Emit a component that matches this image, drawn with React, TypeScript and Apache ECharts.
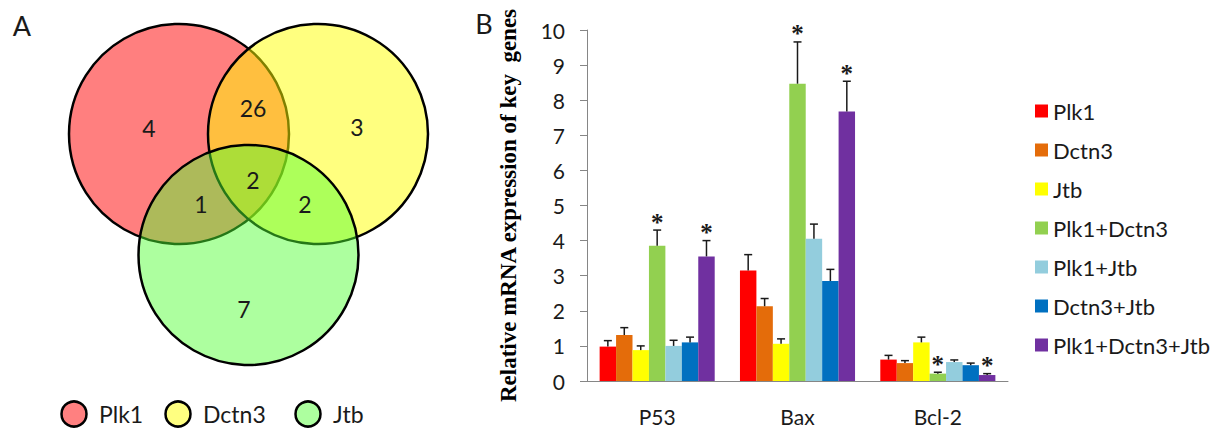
import React, { useEffect, useRef } from "react";
import * as echarts from "echarts";

const categories = ["P53", "Bax", "Bcl-2"];
const seriesNames = ["Plk1", "Dctn3", "Jtb", "Plk1+Dctn3", "Plk1+Jtb", "Dctn3+Jtb", "Plk1+Dctn3+Jtb"];
const seriesColors = ["#FF0000", "#E46C0A", "#FFFF00", "#92D050", "#93CDDD", "#0070C0", "#7030A0"];

const plk1 = [0.98, 3.15, 0.61];
const dctn3 = [1.31, 2.13, 0.51];
const jtb = [0.88, 1.06, 1.1];
const plk1Dctn3 = [3.85, 8.47, 0.21];
const plk1Jtb = [1.0, 4.05, 0.54];
const dctn3Jtb = [1.1, 2.85, 0.45];
const plk1Dctn3Jtb = [3.55, 7.68, 0.17];

const plk1Err = [0.17, 0.45, 0.12];
const dctn3Err = [0.21, 0.22, 0.07];
const jtbErr = [0.12, 0.14, 0.15];
const plk1Dctn3Err = [0.45, 1.19, 0.04];
const plk1JtbErr = [0.16, 0.42, 0.06];
const dctn3JtbErr = [0.15, 0.33, 0.06];
const plk1Dctn3JtbErr = [0.45, 0.86, 0.04];

const plk1Dctn3Sig = [1, 1, 1];
const plk1Dctn3JtbSig = [1, 1, 1];

const yTicks = [0, 1, 2, 3, 4, 5, 6, 7, 8, 9, 10];

// Venn diagram
const vennSets = ["Plk1", "Dctn3", "Jtb"];
const vennRegionCounts = [4, 3, 7, 26, 1, 2, 2]; // Plk1 only, Dctn3 only, Jtb only, P∩D, P∩J, D∩J, all

const allValues = [plk1, dctn3, jtb, plk1Dctn3, plk1Jtb, dctn3Jtb, plk1Dctn3Jtb];
const allErrors = [plk1Err, dctn3Err, jtbErr, plk1Dctn3Err, plk1JtbErr, dctn3JtbErr, plk1Dctn3JtbErr];
const zeros = [0, 0, 0];
const allSig = [zeros, zeros, zeros, plk1Dctn3Sig, zeros, zeros, plk1Dctn3JtbSig];

const CAT_GAP = 0.18;
const FONT = "Lato, 'Open Sans', sans-serif";
const SERIF = "'Liberation Serif', 'Times New Roman', serif";

export default function App() {
  const ref = useRef<HTMLDivElement>(null);
  useEffect(() => {
    if (!ref.current) return;
    const chart = echarts.init(ref.current, undefined, { renderer: "svg" });

    const errData: any[] = [];
    allValues.forEach((vals, si) => {
      vals.forEach((v, ci) => {
        errData.push([ci, v + allErrors[si][ci], si, v, allSig[si][ci]]);
      });
    });

    const n = seriesNames.length;

    // Venn geometry
    const R = 110;
    const centers = [
      [179, 134],
      [318, 134],
      [248.5, 255],
    ];
    const vennFills = ["rgba(255,0,0,0.5)", "rgba(255,255,0,0.5)", "rgba(80,255,49,0.465)"];
    const legendFills = ["#FF8080", "#FFFF80", "#ADFF9F"];
    const regionPos = [
      [149, 128],
      [357, 127],
      [244, 309],
      [253, 108],
      [201, 204],
      [305, 204],
      [253, 180],
    ];

    const graphics: any[] = [];
    centers.forEach((c, i) => {
      graphics.push({
        type: "circle",
        shape: { cx: c[0], cy: c[1], r: R },
        style: { fill: vennFills[i], stroke: "#000", lineWidth: 2.5 },
        z: 10 + i,
      });
    });
    regionPos.forEach((p, i) => {
      graphics.push({
        type: "text",
        x: p[0],
        y: p[1],
        style: {
          text: String(vennRegionCounts[i]),
          fontSize: 23,
          fontFamily: FONT,
          fill: "#1a1a1a",
          align: "center",
          verticalAlign: "middle",
        },
        z: 20,
      });
    });
    const legX = [74, 178, 308];
    vennSets.forEach((name, i) => {
      graphics.push({
        type: "circle",
        shape: { cx: legX[i], cy: 414, r: 12.5 },
        style: { fill: legendFills[i], stroke: "#000", lineWidth: 2.5 },
        z: 10,
      });
      graphics.push({
        type: "text",
        x: legX[i] + 25,
        y: 414,
        style: {
          text: name,
          fontSize: 23,
          fontFamily: FONT,
          fill: "#1a1a1a",
          align: "left",
          verticalAlign: "middle",
        },
        z: 10,
      });
    });
    graphics.push({
      type: "text",
      x: 22,
      y: 25,
      style: { text: "A", fontSize: 27, fontFamily: FONT, fill: "#1a1a1a", align: "center", verticalAlign: "middle" },
    });
    graphics.push({
      type: "text",
      x: 484,
      y: 23,
      style: { text: "B", fontSize: 27, fontFamily: FONT, fill: "#1a1a1a", align: "center", verticalAlign: "middle" },
    });

    const option: any = {
      animation: false,
      backgroundColor: "#ffffff",
      grid: { left: 587, right: 209, top: 30, bottom: 50, containLabel: false },
      legend: {
        data: seriesNames,
        orient: "vertical",
        left: 1035,
        top: 100,
        padding: 0,
        itemWidth: 13,
        itemHeight: 13,
        itemGap: 17,
        icon: "rect",
        textStyle: { fontSize: 22, lineHeight: 22, fontFamily: FONT, color: "#1a1a1a" },
      },
      xAxis: {
        type: "category",
        data: categories,
        axisLine: { lineStyle: { color: "#868686", width: 1 } },
        axisTick: { length: 7, lineStyle: { color: "#868686" } },
        axisLabel: { fontSize: 21, fontFamily: FONT, color: "#1a1a1a", margin: 25 },
      },
      yAxis: {
        type: "value",
        min: 0,
        max: yTicks[yTicks.length - 1],
        interval: 1,
        name: "Relative mRNA expression of key  genes",
        nameLocation: "middle",
        nameRotate: 90,
        nameGap: 67,
        nameTextStyle: {
          fontFamily: SERIF,
          fontWeight: "bold",
          fontSize: 23,
          color: "#000",
        },
        axisLine: { show: true, lineStyle: { color: "#868686", width: 1 } },
        axisTick: { show: true, length: 7, lineStyle: { color: "#868686" } },
        splitLine: { show: false },
        axisLabel: { fontSize: 21, fontFamily: FONT, color: "#1a1a1a", margin: 22 },
      },
      series: [
        ...seriesNames.map((name, si) => ({
          name,
          type: "bar",
          data: allValues[si],
          barGap: "0%",
          barCategoryGap: CAT_GAP * 100 + "%",
          itemStyle: { color: seriesColors[si] },
          z: 2,
        })),
        {
          type: "custom",
          name: "errors",
          data: errData,
          encode: { x: 0, y: 1 },
          clip: false,
          z: 5,
          renderItem: (params: any, api: any) => {
            const ci = api.value(0);
            const top = api.value(1);
            const si = api.value(2);
            const v = api.value(3);
            const sig = api.value(4);
            const band = api.size([1, 0])[0];
            const used = band * (1 - CAT_GAP);
            const bw = used / n;
            const cx = api.coord([ci, 0])[0] - used / 2 + bw * (si + 0.5);
            const yTop = api.coord([ci, top])[1];
            const yBase = api.coord([ci, v])[1];
            const children: any[] = [
              {
                type: "line",
                shape: { x1: cx, y1: yBase, x2: cx, y2: yTop },
                style: { stroke: "#1a1a1a", lineWidth: 1.5 },
              },
              {
                type: "line",
                shape: { x1: cx - 4, y1: yTop, x2: cx + 4, y2: yTop },
                style: { stroke: "#1a1a1a", lineWidth: 1.5 },
              },
            ];
            if (sig) {
              children.push({
                type: "text",
                style: {
                  text: "*",
                  x: cx,
                  y: yTop - 8,
                  align: "center",
                  verticalAlign: "middle",
                  fontSize: 25,
                  fontWeight: "bold",
                  fontFamily: SERIF,
                  fill: "#1a1a1a",
                },
              });
            }
            return { type: "group", children };
          },
        },
      ],
      graphic: graphics,
    };
    chart.setOption(option);
    return () => chart.dispose();
  }, []);
  return (
    <div
      ref={ref}
      style={{ position: "fixed", left: 0, top: 0, width: 1217, height: 431, background: "#fff" }}
    />
  );
}
